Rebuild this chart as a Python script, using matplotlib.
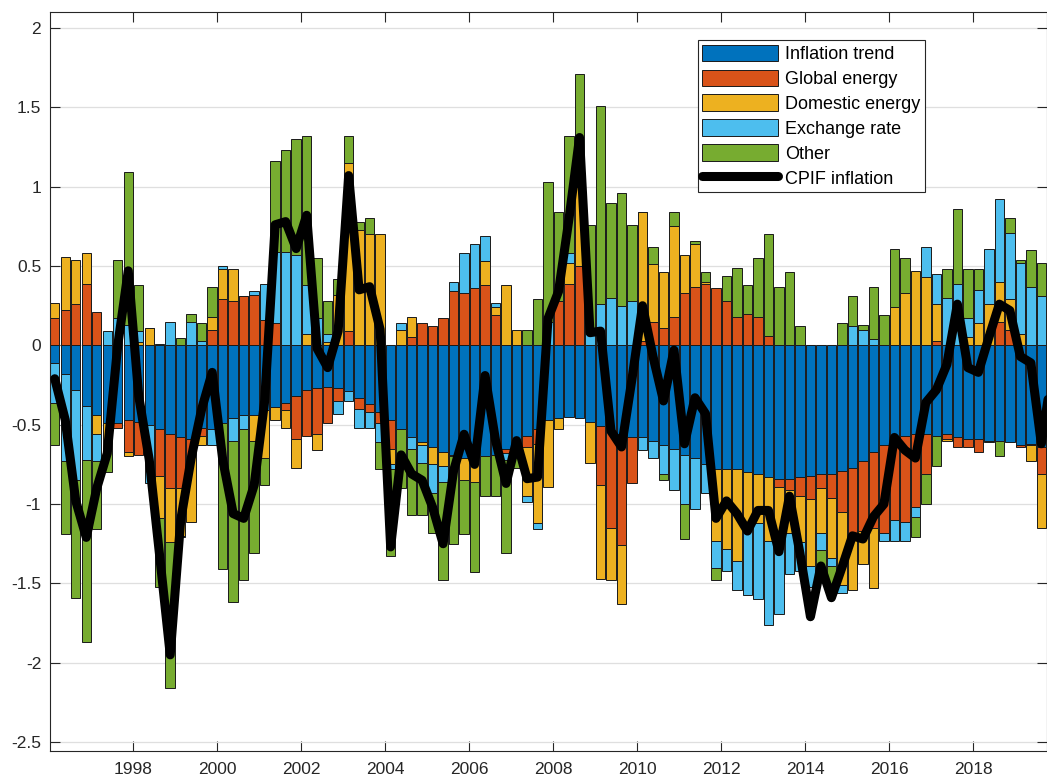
import numpy as np
import pandas as pd
import matplotlib
matplotlib.use("Agg")
import matplotlib.pyplot as plt
from matplotlib.patches import Patch
from matplotlib.lines import Line2D

plt.rcParams['font.family'] = ['Liberation Sans', 'DejaVu Sans']
plt.rcParams['axes.unicode_minus'] = False

# quarterly contributions, 1996Q1 - 2019Q4
trend = [-0.11, -0.18, -0.28, -0.38, -0.44, -0.49, -0.49, -0.47, -0.48, -0.50,
         -0.53, -0.56, -0.58, -0.59, -0.52, -0.53, -0.49, -0.46, -0.44, -0.44,
         -0.41, -0.39, -0.36, -0.32, -0.28, -0.27, -0.26, -0.27, -0.29, -0.33,
         -0.37, -0.42, -0.47, -0.53, -0.58, -0.61, -0.64, -0.67, -0.69, -0.71,
         -0.68, -0.70, -0.69, -0.65, -0.63, -0.57, -0.53, -0.47, -0.46, -0.45,
         -0.46, -0.48, -0.51, -0.54, -0.56, -0.58, -0.58, -0.60, -0.63, -0.65,
         -0.69, -0.71, -0.75, -0.78, -0.78, -0.78, -0.80, -0.81, -0.83, -0.84,
         -0.84, -0.83, -0.82, -0.81, -0.81, -0.79, -0.77, -0.73, -0.67, -0.63,
         -0.58, -0.57, -0.56, -0.56, -0.57, -0.56, -0.58, -0.59, -0.59, -0.60,
         -0.60, -0.61, -0.63, -0.62, -0.64, -0.64]
global_energy = [0.17, 0.22, 0.26, 0.39, 0.21, 0.00, -0.03, -0.20, -0.21, 0.00,
                 -0.29, -0.34, -0.32, -0.11, -0.05, 0.10, 0.29, 0.28, 0.31, 0.32,
                 0.16, 0.14, -0.05, -0.27, -0.29, -0.29, -0.23, -0.08, 0.09, -0.07,
                 -0.05, -0.07, -0.18, 0.00, 0.05, 0.14, 0.12, 0.17, 0.34, 0.33,
                 0.36, 0.38, 0.19, -0.03, -0.02, -0.07, -0.09, 0.00, 0.28, 0.39,
                 0.50, 0.00, -0.37, -0.61, -0.70, -0.29, 0.03, 0.15, 0.11, 0.18,
                 0.33, 0.37, 0.39, 0.36, 0.28, 0.18, 0.20, 0.18, 0.06, -0.05,
                 -0.07, -0.12, -0.15, -0.09, -0.15, -0.26, -0.42, -0.44, -0.48, -0.55,
                 -0.52, -0.54, -0.46, -0.25, 0.03, -0.03, -0.06, -0.05, -0.08, 0.00,
                 0.15, 0.10, -0.01, -0.01, -0.17, -0.10]
domestic_energy = [0.10, 0.34, 0.28, 0.19, -0.12, -0.17, 0.00, -0.03, 0.02, 0.11,
                   -0.27, -0.34, -0.30, -0.41, -0.06, 0.08, 0.19, 0.20, 0.00, -0.16,
                   -0.30, -0.08, -0.11, -0.18, 0.07, -0.10, 0.02, 0.32, 1.06, 0.73,
                   0.70, 0.70, -0.10, 0.10, 0.13, -0.02, -0.11, -0.09, -0.01, -0.14,
                   -0.18, 0.15, 0.05, 0.38, 0.10, -0.31, -0.50, -0.42, -0.07, 0.13,
                   0.50, -0.26, -0.59, -0.33, -0.37, 0.00, 0.81, 0.36, 0.35, 0.57,
                   0.24, 0.27, 0.01, -0.45, -0.50, -0.58, -0.32, -0.31, -0.40, -0.29,
                   -0.27, -0.29, -0.42, -0.28, -0.38, -0.46, -0.35, -0.21, -0.38, 0.00,
                   0.24, 0.33, 0.47, 0.43, 0.23, -0.01, 0.00, 0.05, 0.14, 0.26,
                   0.25, 0.19, 0.07, -0.10, -0.34, -0.30]
exchange_rate = [-0.25, -0.55, -0.57, -0.34, -0.17, 0.09, 0.17, 0.13, 0.07, -0.37,
                 0.01, 0.15, -0.01, 0.15, 0.03, -0.10, 0.02, -0.14, -0.09, 0.02,
                 0.23, 0.45, 0.59, 0.57, 0.31, 0.17, 0.05, -0.08, -0.06, -0.12,
                 -0.10, -0.12, -0.03, 0.04, -0.07, -0.11, -0.18, -0.10, 0.06, 0.25,
                 0.28, 0.16, 0.03, -0.04, -0.02, -0.04, -0.04, 0.15, 0.00, 0.06,
                 0.03, 0.10, 0.26, 0.30, 0.25, 0.28, -0.08, -0.11, -0.18, -0.26,
                 -0.31, -0.32, -0.18, -0.17, -0.14, -0.18, -0.45, -0.48, -0.53, -0.51,
                 -0.26, -0.18, -0.13, -0.11, -0.05, -0.05, 0.12, 0.10, 0.04, -0.05,
                 -0.13, -0.12, -0.06, 0.19, 0.19, 0.30, 0.39, 0.12, 0.21, 0.35,
                 0.52, 0.42, 0.45, 0.37, 0.31, 0.30]
other = [-0.27, -0.46, -0.74, -1.15, -0.43, -0.14, 0.37, 0.96, 0.29, 0.00,
         -0.43, -0.92, 0.045, 0.05, 0.11, 0.19, -0.92, -1.02, -0.95, -0.71,
         -0.17, 0.57, 0.64, 0.73, 0.94, 0.38, 0.21, 0.10, 0.17, 0.05,
         0.10, -0.17, -0.55, -0.37, -0.42, -0.33, -0.25, -0.62, -0.55, -0.34,
         -0.57, -0.25, -0.26, -0.59, -0.10, 0.10, 0.29, 0.88, 0.56, 0.74,
         0.68, 0.66, 1.25, 0.60, 0.71, 0.48, 0.00, 0.11, -0.04, 0.09,
         -0.22, 0.02, 0.06, -0.08, 0.16, 0.31, 0.18, 0.37, 0.64, 0.37,
         0.46, 0.12, 0.00, -0.20, -0.14, 0.14, 0.19, 0.03, 0.33, 0.19,
         0.37, 0.22, -0.13, -0.19, -0.19, 0.18, 0.47, 0.31, 0.13, -0.01,
         -0.10, 0.09, 0.02, 0.23, 0.21, 0.20]
cpif = [-0.21, -0.47, -0.98, -1.21, -0.90, -0.68, 0.00, 0.47, -0.32, -0.72,
        -1.33, -1.95, -1.10, -0.71, -0.40, -0.17, -0.72, -1.06, -1.09, -0.88,
        -0.35, 0.76, 0.78, 0.61, 0.82, -0.02, -0.14, 0.09, 1.07, 0.35,
        0.37, 0.10, -1.27, -0.69, -0.81, -0.85, -1.02, -1.25, -0.79, -0.56,
        -0.75, -0.19, -0.60, -0.87, -0.60, -0.84, -0.83, 0.17, 0.34, 0.80,
        1.31, 0.08, 0.09, -0.54, -0.64, -0.21, 0.25, -0.07, -0.35, -0.03,
        -0.62, -0.33, -0.43, -1.09, -0.98, -1.06, -1.17, -1.04, -1.04, -1.30,
        -0.95, -1.31, -1.71, -1.39, -1.59, -1.40, -1.20, -1.22, -1.08, -1.00,
        -0.58, -0.66, -0.71, -0.36, -0.28, -0.12, 0.26, -0.14, -0.17, 0.05,
        0.26, 0.22, -0.07, -0.11, -0.62, -0.18]

quarters = pd.period_range('1996Q1', '2019Q4', freq='Q')
x = quarters.year + (quarters.quarter - 0.5) / 4

names = ['Inflation trend', 'Global energy', 'Domestic energy', 'Exchange rate', 'Other']
colors = ['#0072BD', '#D95319', '#EDB120', '#4DBEEE', '#77AC30']
series = [trend, global_energy, domestic_energy, exchange_rate, other]

fig = plt.figure(figsize=(10.47, 7.78), dpi=100)
ax = fig.add_axes([0.0473, 0.0351, 0.9523, 0.9495])

# stacked bars, positives and negatives stacked separately
pos = np.zeros(len(x))
neg = np.zeros(len(x))
for vals, c in zip(series, colors):
    v = np.array(vals, dtype=float)
    bottom = np.where(v >= 0, pos, neg)
    ax.bar(x, v, width=0.225, bottom=bottom, color=c, edgecolor='#1a1a1a',
           linewidth=0.7, zorder=2)
    pos += np.clip(v, 0, None)
    neg += np.clip(v, None, 0)

ax.plot(x, cpif, color='black', linewidth=6.5, solid_joinstyle='round',
        solid_capstyle='round', zorder=3)

ax.set_xlim(1996.0, 2019.75)
ax.set_ylim(-2.554, 2.101)
ax.set_xticks(range(1998, 2019, 2))
ax.set_yticks(np.arange(-2.5, 2.01, 0.5))
ax.set_yticklabels(['-2.5', '-2', '-1.5', '-1', '-0.5', '0', '0.5', '1', '1.5', '2'])
ax.yaxis.grid(True, color='#dfdfdf', linewidth=0.9, zorder=0)
ax.set_axisbelow(True)
ax.tick_params(direction='in', length=7, width=0.8, colors='#262626',
               labelsize=12.5, top=True, right=True)
ax.tick_params(axis='x', pad=8)
ax.tick_params(axis='y', pad=6)
for s in ax.spines.values():
    s.set_color('#262626')
    s.set_linewidth(0.8)

handles = [Patch(facecolor=c, edgecolor='#1a1a1a', linewidth=0.7) for c in colors]
handles.append(Line2D([], [], color='black', linewidth=6.5, solid_capstyle='round'))
leg = ax.legend(handles, names + ['CPIF inflation'], loc='upper right',
                bbox_to_anchor=(0.8776, 0.962), borderaxespad=0, fontsize=13,
                fancybox=False, framealpha=1, edgecolor='#262626',
                handlelength=4.2, handleheight=1.0, handletextpad=0.37,
                labelspacing=0.37, borderpad=0.25)
leg.get_frame().set_linewidth(0.8)

fig.savefig('out.png', dpi=100)
